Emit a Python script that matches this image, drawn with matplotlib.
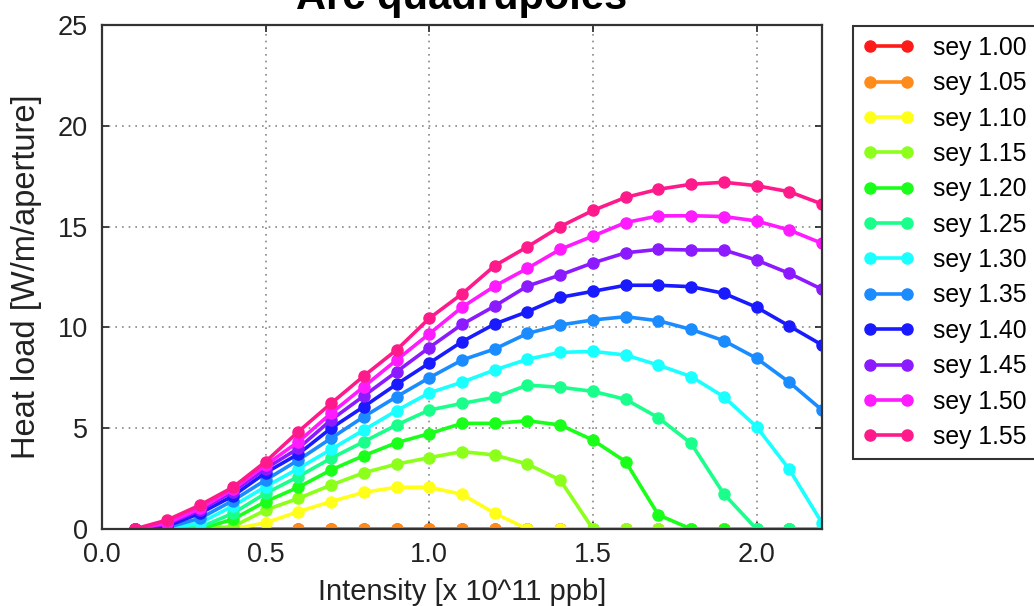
import matplotlib
matplotlib.use("Agg")
import matplotlib.pyplot as plt

plt.rcParams['font.family'] = ['Liberation Sans', 'DejaVu Sans']

intensity = [0.1, 0.2, 0.3, 0.4, 0.5, 0.6, 0.7, 0.8, 0.9, 1.0, 1.1,
             1.2, 1.3, 1.4, 1.5, 1.6, 1.7, 1.8, 1.9, 2.0, 2.1, 2.2]

sey_labels = ['sey 1.00', 'sey 1.05', 'sey 1.10', 'sey 1.15', 'sey 1.20', 'sey 1.25',
              'sey 1.30', 'sey 1.35', 'sey 1.40', 'sey 1.45', 'sey 1.50', 'sey 1.55']

sey100 = [0] * 22
sey105 = [0] * 22
sey110 = [0, 0, 0, 0, 0.31, 0.86, 1.36, 1.82, 2.07, 2.07, 1.72,
          0.78, 0, 0, 0, 0, 0, 0, 0, 0, 0, 0]
sey115 = [0, 0, 0, 0.12, 0.94, 1.52, 2.18, 2.79, 3.22, 3.54, 3.84,
          3.67, 3.22, 2.43, 0, 0, 0, 0, 0, 0, 0, 0]
sey120 = [0, 0, 0, 0.48, 1.36, 2.07, 2.93, 3.64, 4.28, 4.73, 5.24,
          5.24, 5.37, 5.16, 4.41, 3.34, 0.70, 0, 0, 0, 0, 0]
sey125 = [0, 0, 0.08, 0.78, 1.77, 2.60, 3.51, 4.33, 5.16, 5.90, 6.23,
          6.53, 7.14, 7.03, 6.83, 6.43, 5.52, 4.25, 1.74, 0, 0, 0]
sey130 = [0, 0.03, 0.30, 1.14, 2.10, 3.00, 3.95, 4.91, 5.87, 6.75, 7.28,
          7.89, 8.42, 8.76, 8.81, 8.63, 8.13, 7.56, 6.56, 5.07, 2.96, 0.30]
sey135 = [0, 0.08, 0.53, 1.41, 2.43, 3.42, 4.50, 5.57, 6.56, 7.50, 8.38,
          8.93, 9.70, 10.12, 10.37, 10.53, 10.33, 9.90, 9.34, 8.47, 7.28, 5.90]
sey140 = [0, 0.15, 0.78, 1.64, 2.79, 3.72, 5.00, 6.07, 7.18, 8.23, 9.29,
          10.17, 10.78, 11.49, 11.79, 12.09, 12.09, 12.02, 11.69, 11.00, 10.07, 9.13]
sey145 = [0, 0.25, 0.94, 1.85, 3.00, 4.00, 5.41, 6.60, 7.80, 9.00, 10.15,
          11.06, 12.05, 12.60, 13.20, 13.70, 13.87, 13.84, 13.84, 13.34, 12.68, 11.89]
sey150 = [0, 0.30, 1.03, 1.97, 3.17, 4.33, 5.74, 7.06, 8.38, 9.68, 11.00,
          12.05, 12.93, 13.87, 14.53, 15.20, 15.53, 15.54, 15.50, 15.28, 14.83, 14.17]
sey155 = [0, 0.45, 1.19, 2.07, 3.34, 4.83, 6.23, 7.59, 8.88, 10.45, 11.66,
          13.06, 14.00, 15.00, 15.80, 16.45, 16.85, 17.10, 17.20, 17.03, 16.73, 16.12]

series = [sey100, sey105, sey110, sey115, sey120, sey125,
          sey130, sey135, sey140, sey145, sey150, sey155]

colors = ['#ff1a1a', '#ff8c1a', '#ffff1a', '#8cff1a', '#1aff1a', '#1aff8c',
          '#1affff', '#1a8cff', '#1a1aff', '#8c1aff', '#ff1aff', '#ff1a8c']

xticks = [0.0, 0.5, 1.0, 1.5, 2.0]
yticks = [0, 5, 10, 15, 20, 25]

fig = plt.figure(figsize=(10.34, 6.06), dpi=100)
ax = fig.add_axes([102 / 1034, 77 / 606, 720 / 1034, 504 / 606])

for vals, col, lab in zip(series, colors, sey_labels):
    ax.plot(intensity, vals, '-o', color=col, lw=2.6, ms=8, mec=col, label=lab)

ax.set_xlim(0, 2.2)
ax.set_ylim(0, 25)
ax.set_xticks(xticks)
ax.set_xticklabels([f'{t:.1f}' for t in xticks])
ax.set_yticks(yticks)
ax.grid(True, color='#888888', linestyle=(0, (1, 3)), linewidth=1.2)
ax.tick_params(direction='in', length=5, width=1.2, labelsize=19.5, colors='#222222',
               top=True, right=True)
ax.tick_params(axis='x', pad=9)
ax.tick_params(axis='y', pad=10)
for sp in ax.spines.values():
    sp.set_linewidth(1.6)
    sp.set_color('#333333')

ax.set_xlabel('Intensity [x 10^11 ppb]', fontsize=21, color='#222222')
ax.set_ylabel('Heat load [W/m/aperture]', fontsize=23.5, color='#222222')
ax.xaxis.set_label_coords(0.5, (529 - 578) / 504)
ax.yaxis.set_label_coords((42 - 102) / 720, 0.5)

fig.text(462 / 1034, 1 - 9 / 606, 'Arc quadrupoles', ha='center', va='baseline',
         fontsize=30, fontweight='bold')

leg = fig.legend(loc='upper left', bbox_to_anchor=(853 / 1034, 1 - 26 / 606),
                 fontsize=17.8, numpoints=2, handlelength=2.1, handletextpad=0.75,
                 labelspacing=0.46, borderpad=0.4, fancybox=False, framealpha=1,
                 edgecolor='#333333', borderaxespad=0)
leg.get_frame().set_linewidth(1.5)

fig.savefig('out.png', dpi=100)
